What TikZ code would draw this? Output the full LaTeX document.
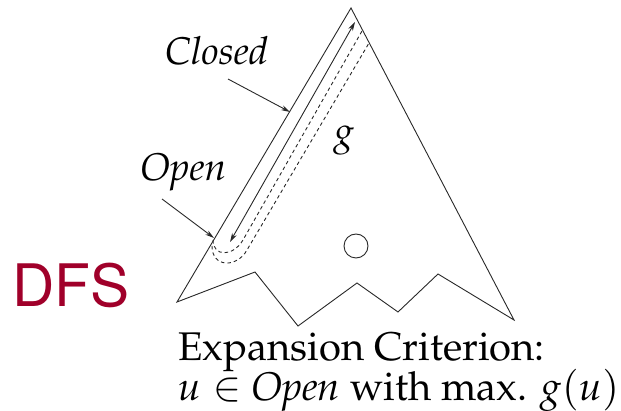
\documentclass[tikz,border=0pt]{standalone}
\usepackage[T1]{fontenc}
\usepackage{mathpazo}
\usetikzlibrary{arrows.meta}
\definecolor{dfsred}{RGB}{160,0,42}
\definecolor{ink}{RGB}{40,40,40}
\begin{document}
\begin{tikzpicture}[x=1pt,y=-1pt,
  edge/.style={draw=ink,line width=0.9pt},
  pointer/.style={draw=ink,line width=0.9pt,-{Stealth[length=9pt,width=5pt]}},
  dashline/.style={draw=ink,line width=0.9pt,dash pattern=on 3.5pt off 3pt},
  lbl/.style={inner sep=0pt,anchor=base west,font=\fontsize{38.6}{40}\selectfont},
  crit/.style={inner sep=0pt,anchor=base west,font=\fontsize{40}{42}\selectfont}]
\useasboundingbox (0,0) rectangle (621,411);
% search tree outline
\coordinate (apex) at (351,8);
\coordinate (lb) at (177,302);
\coordinate (rb) at (514,320);
\draw[edge,line join=miter] (apex) -- (rb) -- (438,274) -- (398,312) -- (357,283)
  -- (298,326) -- (255,272) -- (lb) -- cycle;
% goal circle
\draw[edge] (356,246) circle[radius=12pt];
% g path
\coordinate (gtop) at (355,22);
\coordinate (gbot) at (230,242);
\draw[edge,{Stealth[length=9pt,width=5pt]}-{Stealth[length=9pt,width=5pt]}] (gbot) -- (gtop);
% dashed boundaries
\draw[dashline] (213,240) .. controls (213,257) and (233,257) .. (243,240) -- (362,31);
\draw[dashline] (212,246) .. controls (212,268) and (237,268) .. (247,250) -- (369,43);
% labels
\node[lbl] (closed) at (165,65) {\itshape Closed};
\node[lbl] (open) at (140,181) {\itshape Open};
\node[lbl] (g) at (333,145) {$g$};
\coordinate (closedtail) at (228,79);
\coordinate (closedtip) at (290,112);
\coordinate (opentail) at (162,199);
\coordinate (opentip) at (214,238);
\draw[pointer] (closedtail) -- (closedtip);
\draw[pointer] (opentail) -- (opentip);
% DFS
\node[inner sep=0pt,anchor=base west,text=dfsred,font=\fontfamily{phv}\fontsize{58.6}{60}\selectfont] (dfs) at (12,307) {DFS};
% criterion
\node[crit] (c1) at (178,361) {Expansion Criterion:};
\node[crit] (c2) at (178,400) {$u\in$ \textit{Open} with max. $g(u)$};
\end{tikzpicture}
\end{document}
